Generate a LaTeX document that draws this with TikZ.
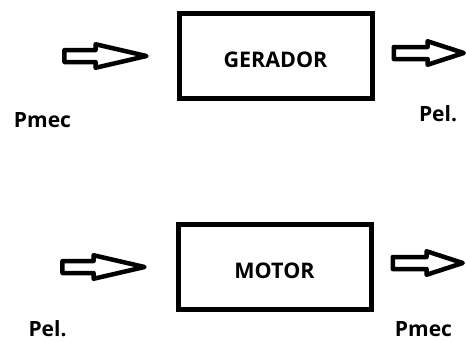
\documentclass[tikz,border=0pt]{standalone}
\usepackage{fontspec}
\setmainfont{Open Sans}
\usetikzlibrary{positioning, shapes.arrows}

\begin{document}
\begin{tikzpicture}[x=1pt, y=-1pt,
        bloco/.style={draw, line width=5pt, minimum width=193pt, minimum height=85pt,
            font=\bfseries\fontsize{21.5}{25}\selectfont, text height=23pt, text depth=0pt},
        seta/.style={single arrow, draw, line width=4.5pt, line join=round, inner sep=0pt,
            text height=7.5pt, text depth=0pt, text width=0pt, single arrow head extend=5.75pt,
            minimum height=82pt, single arrow tip angle=26},
        rotulo/.style={font=\bfseries\fontsize{21}{25}\selectfont, anchor=base}]
                \useasboundingbox (0,0) rectangle (466,341);

                \node[bloco] (ger) at (275.5,56) {GERADOR};
                \node[bloco] (mot) at (274.5,267) {MOTOR};

                \node[seta, left=20pt of ger] (entG) {};
                \node[seta, right=17pt of ger, yshift=3pt, minimum height=70pt, single arrow tip angle=36] (saiG) {};
                \node[seta, left=21pt of mot] (entM) {};
                \node[seta, right=17pt of mot, yshift=4pt, minimum height=70pt, single arrow tip angle=36] (saiM) {};

                \node[rotulo] (pmecG) at (42.5,127) {Pmec};
                \node[rotulo] (pelG) at (438,121) {Pel.};
                \node[rotulo] (pelM) at (47.5,336) {Pel.};
                \node[rotulo] (pmecM) at (423.5,336) {Pmec};
            \end{tikzpicture}
\end{document}
